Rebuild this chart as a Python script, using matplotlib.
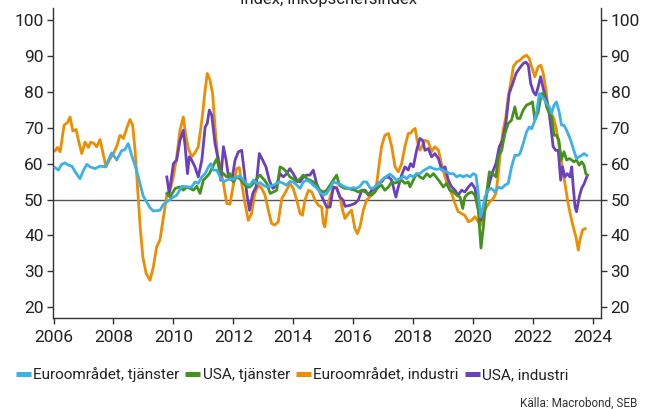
import matplotlib
matplotlib.use("Agg")
import matplotlib.pyplot as plt
from matplotlib.lines import Line2D

plt.rcParams['font.family'] = ['Roboto', 'DejaVu Sans']

# ---- data (decimal year, index) ----
eu_serv_t = [2006.05, 2006.16, 2006.27, 2006.38, 2006.49, 2006.61, 2006.72, 2006.88, 2007.0, 2007.11,
             2007.22, 2007.38, 2007.55, 2007.72, 2007.83, 2007.94, 2008.11, 2008.27, 2008.38, 2008.49,
             2008.6, 2008.77, 2008.99, 2009.22, 2009.33, 2009.55, 2009.66, 2009.89, 2010.0, 2010.11,
             2010.28, 2010.45, 2010.61, 2010.72, 2010.83, 2010.95, 2011.06, 2011.17, 2011.25, 2011.33,
             2011.45, 2011.56, 2011.67, 2011.78, 2011.89, 2012.0, 2012.11, 2012.22, 2012.34, 2012.45,
             2012.56, 2012.67, 2012.78, 2012.89, 2013.0, 2013.12, 2013.23, 2013.34, 2013.45, 2013.56,
             2013.67, 2013.78, 2013.89, 2014.0, 2014.12, 2014.23, 2014.34, 2014.45, 2014.56, 2014.67,
             2014.78, 2014.89, 2015.01, 2015.12, 2015.23, 2015.34, 2015.45, 2015.56, 2015.67, 2015.79,
             2015.9, 2016.01, 2016.12, 2016.23, 2016.34, 2016.45, 2016.56, 2016.67, 2016.79, 2016.9,
             2017.01, 2017.12, 2017.23, 2017.34, 2017.45, 2017.57, 2017.68, 2017.79, 2017.9, 2018.01,
             2018.12, 2018.23, 2018.34, 2018.46, 2018.57, 2018.68, 2018.79, 2018.9, 2019.01, 2019.12,
             2019.23, 2019.35, 2019.46, 2019.57, 2019.68, 2019.79, 2019.9, 2020.01, 2020.1, 2020.18,
             2020.26, 2020.32, 2020.4, 2020.51, 2020.62, 2020.74, 2020.85, 2020.96, 2021.07, 2021.18,
             2021.29, 2021.4, 2021.51, 2021.57, 2021.68, 2021.79, 2021.88, 2021.96, 2022.05, 2022.13,
             2022.22, 2022.29, 2022.37, 2022.46, 2022.55, 2022.63, 2022.71, 2022.79, 2022.88, 2022.96,
             2023.04, 2023.13, 2023.22, 2023.3, 2023.37, 2023.46, 2023.55, 2023.63, 2023.71, 2023.8]
eu_serv_v = [58.9, 58.2, 59.8, 60.2, 59.6, 59.3, 57.7, 55.8, 58.2, 59.8,
             59.1, 58.6, 59.3, 59.1, 61.0, 63.0, 61.0, 63.6, 63.9, 65.6,
             62.5, 58.2, 51.0, 47.7, 46.8, 47.0, 48.6, 50.0, 50.7, 51.2,
             53.7, 53.5, 53.5, 54.9, 54.5, 56.3, 57.2, 59.1, 60.0, 58.2,
             58.2, 56.3, 54.9, 55.4, 55.8, 55.6, 56.3, 56.5, 55.4, 54.3,
             54.0, 55.4, 54.5, 54.7, 54.0, 53.5, 53.7, 54.0, 54.5, 54.9,
             54.5, 54.0, 55.0, 54.9, 54.0, 53.1, 54.9, 55.4, 54.9, 54.0,
             53.3, 52.1, 51.2, 51.7, 53.1, 54.9, 54.6, 54.3, 53.7, 53.3,
             53.1, 53.3, 53.1, 53.7, 54.9, 54.9, 53.3, 53.1, 54.0, 54.9,
             55.8, 56.5, 57.1, 56.3, 55.4, 55.8, 56.5, 55.8, 56.8, 56.3,
             57.2, 57.2, 58.0, 58.6, 59.1, 58.6, 58.4, 58.6, 58.2, 57.7,
             57.2, 57.2, 56.3, 56.8, 56.3, 56.8, 56.3, 57.2, 56.8, 51.7,
             45.2, 47.0, 50.7, 52.6, 53.1, 52.1, 53.5, 53.1, 54.0, 54.5,
             59.1, 62.3, 62.3, 62.8, 65.6, 68.8, 70.2, 69.7, 71.6, 74.4,
             79.5, 78.6, 78.1, 76.7, 75.8, 74.0, 76.3, 77.2, 74.4, 70.7,
             70.7, 69.3, 67.5, 65.6, 63.7, 61.4, 61.9, 62.3, 62.8, 62.3]

us_serv_t = [2009.78, 2009.89, 2010.06, 2010.22, 2010.33, 2010.45, 2010.56, 2010.67, 2010.78, 2010.89,
             2011.0, 2011.11, 2011.2, 2011.31, 2011.45, 2011.54, 2011.67, 2011.78, 2011.89, 2012.0,
             2012.11, 2012.22, 2012.34, 2012.45, 2012.56, 2012.67, 2012.78, 2012.89, 2013.0, 2013.12,
             2013.23, 2013.34, 2013.45, 2013.56, 2013.67, 2013.78, 2013.89, 2014.0, 2014.12, 2014.23,
             2014.34, 2014.45, 2014.56, 2014.67, 2014.78, 2014.89, 2015.01, 2015.12, 2015.23, 2015.34,
             2015.45, 2015.54, 2015.62, 2015.73, 2015.84, 2015.95, 2016.06, 2016.17, 2016.29, 2016.4,
             2016.51, 2016.62, 2016.73, 2016.84, 2016.95, 2017.06, 2017.18, 2017.29, 2017.4, 2017.51,
             2017.62, 2017.73, 2017.84, 2017.9, 2018.01, 2018.12, 2018.23, 2018.34, 2018.46, 2018.57,
             2018.68, 2018.79, 2018.9, 2019.01, 2019.12, 2019.23, 2019.35, 2019.46, 2019.57, 2019.66,
             2019.73, 2019.85, 2019.96, 2020.07, 2020.18, 2020.27, 2020.35, 2020.44, 2020.55, 2020.66,
             2020.77, 2020.85, 2020.96, 2021.07, 2021.18, 2021.29, 2021.4, 2021.48, 2021.57, 2021.68,
             2021.79, 2021.9, 2021.99, 2022.07, 2022.18, 2022.29, 2022.37, 2022.46, 2022.55, 2022.63,
             2022.71, 2022.79, 2022.87, 2022.95, 2023.04, 2023.13, 2023.22, 2023.3, 2023.37, 2023.46,
             2023.55, 2023.63, 2023.71, 2023.77, 2023.83]
us_serv_v = [51.7, 50.7, 53.1, 53.5, 52.6, 53.5, 53.1, 52.6, 53.7, 51.7,
             55.4, 56.3, 57.2, 59.1, 61.4, 58.2, 57.2, 56.3, 57.2, 54.9,
             56.3, 55.8, 54.5, 53.5, 53.5, 54.5, 55.8, 56.8, 55.8, 54.5,
             51.7, 52.1, 52.6, 59.1, 58.6, 57.7, 56.3, 55.8, 54.9, 55.8,
             56.8, 55.8, 55.4, 54.9, 54.0, 52.6, 52.1, 52.6, 54.0, 55.4,
             56.8, 54.0, 53.5, 53.1, 53.1, 52.8, 52.6, 52.1, 52.6, 52.1,
             51.7, 51.2, 52.1, 53.5, 54.0, 52.6, 53.5, 54.9, 54.6, 54.9,
             55.4, 54.5, 54.9, 53.5, 55.4, 57.2, 56.3, 55.8, 57.2, 56.3,
             57.2, 56.1, 54.9, 53.5, 54.5, 52.6, 52.1, 51.2, 50.7, 47.5,
             50.7, 51.7, 52.1, 51.2, 47.0, 36.5, 42.4, 50.7, 57.7, 57.2,
             56.3, 61.9, 63.7, 68.4, 71.2, 72.1, 75.8, 72.6, 72.6, 74.9,
             76.3, 76.7, 77.2, 72.1, 74.4, 79.5, 79.5, 75.8, 74.0, 73.0,
             67.9, 67.9, 66.5, 61.0, 63.3, 61.0, 61.4, 61.0, 60.5, 61.0,
             59.6, 60.5, 59.6, 57.2, 56.8]

eu_ind_t = [2006.05, 2006.13, 2006.22, 2006.35, 2006.46, 2006.55, 2006.64, 2006.75, 2006.83, 2006.94,
            2007.05, 2007.16, 2007.24, 2007.35, 2007.44, 2007.55, 2007.64, 2007.75, 2007.87, 2008.0,
            2008.11, 2008.22, 2008.33, 2008.44, 2008.55, 2008.64, 2008.72, 2008.8, 2008.89, 2008.98,
            2009.09, 2009.22, 2009.33, 2009.44, 2009.55, 2009.67, 2009.78, 2009.89, 2010.0, 2010.11,
            2010.22, 2010.33, 2010.42, 2010.5, 2010.61, 2010.72, 2010.83, 2010.95, 2011.06, 2011.13,
            2011.22, 2011.31, 2011.39, 2011.47, 2011.56, 2011.67, 2011.78, 2011.89, 2011.99, 2012.11,
            2012.2, 2012.28, 2012.39, 2012.5, 2012.61, 2012.72, 2012.84, 2012.95, 2013.06, 2013.17,
            2013.28, 2013.39, 2013.5, 2013.62, 2013.78, 2013.89, 2014.0, 2014.12, 2014.23, 2014.31,
            2014.39, 2014.51, 2014.62, 2014.73, 2014.84, 2014.95, 2015.01, 2015.06, 2015.14, 2015.23,
            2015.34, 2015.45, 2015.56, 2015.65, 2015.73, 2015.84, 2015.95, 2016.06, 2016.14, 2016.23,
            2016.34, 2016.45, 2016.56, 2016.67, 2016.79, 2016.88, 2016.95, 2017.06, 2017.18, 2017.29,
            2017.4, 2017.51, 2017.62, 2017.73, 2017.84, 2017.92, 2017.99, 2018.07, 2018.14, 2018.23,
            2018.32, 2018.4, 2018.51, 2018.62, 2018.73, 2018.85, 2018.96, 2019.07, 2019.18, 2019.29,
            2019.4, 2019.51, 2019.62, 2019.73, 2019.85, 2019.96, 2020.07, 2020.18, 2020.26, 2020.35,
            2020.46, 2020.57, 2020.68, 2020.77, 2020.85, 2020.92, 2021.01, 2021.1, 2021.18, 2021.26,
            2021.35, 2021.46, 2021.57, 2021.68, 2021.79, 2021.88, 2021.96, 2022.07, 2022.18, 2022.27,
            2022.35, 2022.44, 2022.52, 2022.61, 2022.68, 2022.77, 2022.85, 2022.93, 2023.02, 2023.11,
            2023.18, 2023.27, 2023.35, 2023.44, 2023.52, 2023.57, 2023.66, 2023.75]
eu_ind_v = [63.6, 64.5, 63.3, 70.7, 71.4, 73.0, 69.1, 69.5, 66.5, 62.8,
            66.0, 64.5, 66.0, 65.6, 64.7, 66.7, 63.3, 59.1, 61.1, 62.8,
            64.9, 67.9, 67.0, 69.8, 72.3, 70.7, 63.7, 53.5, 42.4, 34.0,
            29.4, 27.5, 31.2, 36.8, 38.7, 45.2, 51.2, 52.6, 56.3, 61.9,
            69.3, 73.0, 67.5, 64.2, 61.9, 63.0, 64.7, 72.1, 80.5, 85.1,
            83.3, 79.5, 70.2, 62.8, 59.1, 54.5, 48.9, 48.7, 53.5, 58.6,
            58.9, 54.5, 48.9, 44.2, 46.1, 51.7, 54.0, 53.1, 51.2, 47.0,
            43.3, 42.9, 43.8, 50.3, 52.6, 54.5, 53.1, 49.8, 46.1, 45.6,
            49.8, 52.6, 52.1, 49.8, 48.4, 47.9, 43.3, 42.4, 47.9, 50.7,
            53.1, 53.5, 50.7, 47.0, 44.7, 46.1, 47.0, 41.9, 40.5, 42.4,
            47.0, 49.8, 50.7, 52.1, 54.5, 60.5, 64.7, 67.9, 68.4, 64.7,
            59.1, 57.7, 60.0, 64.7, 68.4, 68.5, 69.3, 69.8, 66.5, 63.7,
            65.1, 66.5, 66.1, 63.3, 64.7, 63.7, 59.6, 56.3, 53.5, 51.7,
            48.9, 46.6, 46.1, 45.6, 43.8, 44.2, 45.2, 43.8, 42.9, 46.1,
            48.0, 49.4, 50.3, 51.7, 57.2, 63.7, 69.3, 73.0, 78.6, 82.3,
            87.0, 88.3, 88.8, 89.7, 90.2, 89.3, 87.0, 84.2, 87.0, 87.4,
            85.1, 80.5, 74.9, 74.0, 73.0, 70.2, 66.5, 61.9, 57.2, 52.6,
            48.9, 45.2, 42.4, 39.6, 35.9, 38.7, 41.5, 41.9]

us_ind_t = [2009.78, 2009.86, 2010.0, 2010.11, 2010.22, 2010.33, 2010.39, 2010.47, 2010.53, 2010.61,
            2010.72, 2010.83, 2010.95, 2011.06, 2011.13, 2011.2, 2011.28, 2011.39, 2011.5, 2011.58,
            2011.67, 2011.76, 2011.84, 2011.95, 2012.06, 2012.17, 2012.28, 2012.36, 2012.45, 2012.54,
            2012.65, 2012.76, 2012.87, 2012.98, 2013.09, 2013.2, 2013.32, 2013.45, 2013.56, 2013.67,
            2013.78, 2013.89, 2014.0, 2014.12, 2014.23, 2014.34, 2014.45, 2014.56, 2014.67, 2014.78,
            2014.89, 2015.01, 2015.12, 2015.23, 2015.34, 2015.45, 2015.56, 2015.67, 2015.73, 2015.9,
            2016.06, 2016.17, 2016.29, 2016.4, 2016.51, 2016.62, 2016.73, 2016.84, 2016.95, 2017.06,
            2017.18, 2017.29, 2017.37, 2017.43, 2017.51, 2017.62, 2017.73, 2017.84, 2017.92, 2018.01,
            2018.12, 2018.23, 2018.32, 2018.4, 2018.51, 2018.62, 2018.73, 2018.85, 2018.96, 2019.07,
            2019.18, 2019.29, 2019.4, 2019.51, 2019.62, 2019.73, 2019.85, 2019.96, 2020.07, 2020.18,
            2020.26, 2020.35, 2020.44, 2020.55, 2020.66, 2020.77, 2020.88, 2020.99, 2021.1, 2021.21,
            2021.33, 2021.44, 2021.55, 2021.68, 2021.77, 2021.85, 2021.93, 2022.02, 2022.1, 2022.18,
            2022.26, 2022.35, 2022.44, 2022.52, 2022.59, 2022.68, 2022.77, 2022.85, 2022.93, 2022.99,
            2023.07, 2023.15, 2023.24, 2023.3, 2023.35, 2023.41, 2023.46, 2023.55, 2023.63, 2023.72,
            2023.8]
us_ind_v = [56.3, 51.7, 60.0, 61.0, 66.5, 69.3, 65.0, 57.2, 61.9, 61.0,
            59.1, 56.3, 61.0, 70.2, 71.2, 74.9, 73.5, 65.6, 61.0, 55.4,
            64.7, 61.0, 56.3, 55.4, 61.0, 63.3, 63.7, 58.2, 51.7, 47.0,
            51.7, 53.5, 62.8, 61.0, 59.1, 55.4, 53.1, 54.0, 57.2, 56.3,
            57.2, 58.6, 57.2, 55.4, 54.9, 56.3, 56.8, 56.8, 58.2, 54.5,
            52.1, 49.8, 47.9, 47.9, 53.5, 53.1, 50.7, 49.8, 48.1, 48.4,
            48.9, 49.8, 52.6, 52.6, 51.2, 52.6, 53.1, 54.5, 54.9, 56.1,
            56.3, 55.4, 52.6, 50.7, 53.5, 56.8, 59.1, 58.2, 60.0, 59.1,
            63.7, 67.0, 66.5, 63.7, 64.2, 61.9, 62.8, 61.4, 58.2, 59.1,
            55.4, 53.5, 52.6, 51.2, 52.6, 52.1, 53.5, 54.5, 53.1, 48.0,
            44.2, 47.0, 50.7, 54.5, 57.7, 60.0, 64.7, 66.5, 71.2, 79.5,
            82.3, 85.1, 86.5, 87.9, 88.3, 87.4, 82.3, 80.0, 79.1, 81.4,
            84.2, 80.9, 78.1, 75.8, 71.2, 64.7, 63.7, 63.7, 55.4, 59.1,
            56.3, 57.2, 56.3, 59.1, 53.5, 48.0, 46.6, 50.7, 53.1, 54.5,
            56.3]

series_names = ["Euroområdet, tjänster", "USA, tjänster", "Euroområdet, industri", "USA, industri"]
series_colors = ["#3CB0EA", "#43921C", "#F08C00", "#6B3FBF"]
y_ticks = [20, 30, 40, 50, 60, 70, 80, 90, 100]
x_ticks = [2006, 2008, 2010, 2012, 2014, 2016, 2018, 2020, 2022, 2024]

# ---- figure ----
fig = plt.figure(figsize=(6.46, 4.09), dpi=100)
ax = fig.add_axes([0.0825, 0.2225, 0.8475, 0.7575])

lw = 2.0
ax.axhline(50, color="#555555", lw=1.0, zorder=1)
ax.plot(eu_ind_t, eu_ind_v, color=series_colors[2], lw=lw, zorder=2)
ax.plot(us_ind_t, us_ind_v, color=series_colors[3], lw=lw, zorder=3)
ax.plot(us_serv_t, us_serv_v, color=series_colors[1], lw=lw, zorder=4)
ax.plot(eu_serv_t, eu_serv_v, color=series_colors[0], lw=lw, zorder=5)

ax.set_xlim(2005.99, 2024.27)
ax.set_ylim(17.0, 103.3)
ax.set_xticks(x_ticks)
ax.set_xticklabels([str(t) for t in x_ticks])
ax.set_yticks(y_ticks)
ax.set_yticklabels([str(t) for t in y_ticks])

for s in ["left", "bottom", "right"]:
    ax.spines[s].set_color("#333333")
    ax.spines[s].set_linewidth(1.0)
ax.spines["top"].set_visible(False)
ax.tick_params(axis="both", direction="out", length=4, width=1, color="#333333",
               labelsize=12.5, labelcolor="#222222")
ax.tick_params(axis="y", which="both", left=True, right=True, labelleft=True, labelright=True, pad=3)
ax.tick_params(axis="x", pad=5)

fig.text(0.508, 0.990, "Index, inköpschefsindex", ha="center", va="baseline",
         fontsize=12, color="#222222")

handles = [Line2D([0], [0], color=c, lw=3.6, solid_capstyle="butt") for c in series_colors]
leg = fig.legend(handles, series_names, loc="center left", bbox_to_anchor=(0.0248, 0.0837),
                 ncol=4, frameon=False, fontsize=11.0, handlelength=0.98, handletextpad=0.16,
                 columnspacing=0.38, borderpad=0, borderaxespad=0)
for t in leg.get_texts():
    t.set_color("#222222")

fig.text(0.986, 0.0135, "Källa: Macrobond, SEB", ha="right", va="center", fontsize=8.5,
         color="#333333")

fig.savefig("out.png", dpi=100)
